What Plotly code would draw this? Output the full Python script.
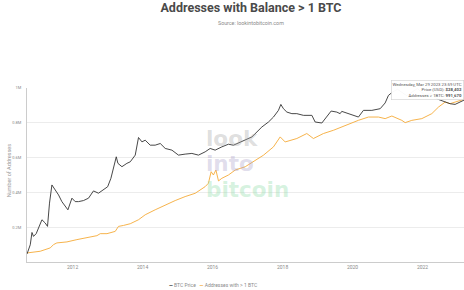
import plotly.graph_objects as go

# ---- data ----
price_dates = [
    "2010-09-12", "2010-10-16", "2010-11-03", "2010-11-19", "2010-12-17",
    "2011-01-10", "2011-02-15", "2011-03-21", "2011-04-14", "2011-05-05",
    "2011-05-30", "2011-07-04", "2011-08-07", "2011-09-11", "2011-10-16",
    "2011-11-13", "2011-12-25", "2012-01-28", "2012-03-03", "2012-04-24",
    "2012-06-15", "2012-08-06", "2012-09-27", "2012-11-18", "2013-01-01",
    "2013-02-04", "2013-03-03", "2013-04-01", "2013-04-18", "2013-05-30",
    "2013-07-21", "2013-08-25", "2013-10-16", "2013-11-19", "2013-12-25",
    "2014-01-28", "2014-03-21", "2014-05-12", "2014-07-04", "2014-08-25",
    "2014-11-03", "2015-01-10", "2015-03-21", "2015-05-30", "2015-08-07",
    "2015-10-16", "2015-12-07", "2016-01-28", "2016-04-07", "2016-06-15",
    "2016-08-06", "2016-11-02", "2017-02-15", "2017-05-30", "2017-08-07",
    "2017-09-28", "2017-11-19", "2017-12-14", "2018-01-10", "2018-02-15",
    "2018-04-08", "2018-05-30", "2018-08-07", "2018-11-03", "2018-12-07",
    "2019-02-15", "2019-04-08", "2019-05-23", "2019-07-21", "2019-08-25",
    "2019-09-11", "2019-12-07", "2020-03-03", "2020-04-24", "2020-07-21",
    "2020-10-16", "2020-12-07", "2021-01-10", "2021-02-20", "2021-04-14",
    "2021-07-20", "2021-11-09", "2022-01-24", "2022-04-01", "2022-05-15",
    "2022-06-16", "2022-08-25", "2022-10-16", "2022-12-07", "2023-01-28",
    "2023-03-10", "2023-03-29",
]
btc_price = [
    0.12, 0.25, 0.67, 0.49, 0.61,
    0.96, 1.85, 1.43, 1.09, 7.0,
    30, 20, 13.5, 7.9, 5.3,
    4.1, 10.4, 7.9, 7.9, 8.6,
    10.4, 18.6, 15.5, 20, 26,
    51, 129, 285, 169, 129,
    169, 191, 326, 1333, 940,
    1075, 723, 723, 826, 556,
    485, 326, 353, 373, 326,
    424, 556, 485, 631, 780,
    720, 990, 1397, 3097, 4613,
    6858, 11700, 18800, 13370, 10200,
    8990, 8990, 7850, 7850, 4613,
    4256, 6858, 11060, 10200, 8990,
    10800, 8500, 6858, 11700, 11700,
    13370, 21200, 38550, 50000, 63000,
    38000, 67000, 40000, 45000, 32000,
    28050, 22600, 19900, 18840, 22600,
    25900, 28402,
]

addr_dates = [
    "2010-09-12", "2011-01-28", "2011-05-13", "2011-06-16", "2011-07-21",
    "2011-11-03", "2012-02-15", "2012-05-30", "2012-09-11", "2012-10-16",
    "2012-12-25", "2013-03-21", "2013-04-24", "2013-06-16", "2013-08-25",
    "2013-11-19", "2014-01-28", "2014-05-12", "2014-08-25", "2014-12-07",
    "2015-03-21", "2015-07-04", "2015-10-16", "2015-11-19", "2015-12-17",
    "2016-01-10", "2016-02-05", "2016-03-03", "2016-04-07", "2016-06-15",
    "2016-08-25", "2016-12-07", "2017-06-16", "2017-09-28", "2017-12-07",
    "2018-01-28", "2018-05-30", "2018-09-11", "2018-11-19", "2019-03-03",
    "2019-06-16", "2019-09-11", "2019-11-19", "2020-03-03", "2020-06-16",
    "2020-09-28", "2020-12-07", "2021-02-15", "2021-05-30", "2021-07-04",
    "2021-09-11", "2021-12-25", "2022-04-08", "2022-06-16", "2022-08-25",
    "2022-10-16", "2022-12-07", "2023-01-28", "2023-03-10", "2023-03-29",
]
addresses = [
    52000, 61700, 81100, 100000, 109700,
    115400, 128600, 138300, 151400, 162900,
    162900, 176000, 204600, 210300, 220000,
    242900, 271400, 300000, 328600, 353100,
    376000, 395000, 433100, 452600, 519000,
    500000, 528600, 466000, 481000, 500000,
    528600, 547400, 614000, 661700, 718900,
    690000, 709700, 738300, 709700, 738300,
    757000, 776000, 795400, 814300, 833100,
    833100, 824000, 839000, 814000, 801000,
    814000, 824000, 852600, 890000, 919000,
    910000, 919000, 928600, 935000, 991670,
]

y_tickvals = [200000, 400000, 600000, 800000, 1000000]
y_ticktext = ["0.2M", "0.4M", "0.6M", "0.8M", "1M"]
x_tickvals = ["2012-01-01", "2014-01-01", "2016-01-01", "2018-01-01", "2020-01-01", "2022-01-01"]
x_ticktext = ["2012", "2014", "2016", "2018", "2020", "2022"]

BLACK = "#333333"
ORANGE = "#f5aa38"

fig = go.Figure()
fig.add_trace(go.Scatter(x=addr_dates, y=addresses, name="Addresses with > 1 BTC",
                         mode="lines", line=dict(color=ORANGE, width=0.9), yaxis="y"))
fig.add_trace(go.Scatter(x=price_dates, y=btc_price, name="BTC Price",
                         mode="lines", line=dict(color=BLACK, width=0.9), yaxis="y2"))

FONT = "Roboto, Arial, sans-serif"
PL, PW, PB, PH = 26.7, 437.3, 262.5, 175.0

ann = []
watermark = [
    ("look", 205, 138.6, "rgba(165,165,165,0.36)"),
    ("into", 205, 163.6, "rgba(170,160,200,0.36)"),
    ("bitcoin", 205, 189.1, "rgba(140,220,165,0.36)"),
]
for text, px, py, col in watermark:
    ann.append(dict(text="<b>%s</b>" % text, xref="paper", yref="paper",
                    x=(px - PL) / PW, y=(PB - py) / PH, borderpad=0,
                    xanchor="left", yanchor="middle", showarrow=False,
                    font=dict(family="DejaVu Sans", size=21.5, color=col)))

# subtitle
ann.append(dict(text="Source: lookintobitcoin.com", xref="paper", yref="paper",
                x=(251 - PL) / PW, y=(PB - 22) / PH, xanchor="center", yanchor="middle",
                showarrow=False, font=dict(family=FONT, size=5.3, color="#8a8a8a")))
# y axis title
ann.append(dict(text="Number of Addresses", xref="paper", yref="paper",
                x=(9 - PL) / PW, y=(PB - 170) / PH, xanchor="center", yanchor="middle",
                textangle=-90, showarrow=False, font=dict(family=FONT, size=5.5, color="#9a9a9a")))
# legend (drawn as text)
ann.append(dict(text="<span style='color:%s'><b>—</b></span> BTC Price   "
                     "<span style='color:%s'><b>—</b></span> Addresses with &gt; 1 BTC" % (BLACK, ORANGE),
                xref="paper", yref="paper",
                x=(213 - PL) / PW, y=(PB - 285.5) / PH, xanchor="center", yanchor="middle",
                showarrow=False, font=dict(family=FONT, size=5, color="#8a8a8a")))
# hover tooltip
ann.append(dict(text="Wednesday, Mar 29 2023 23:59 UTC<br>Price (USD): <b>$28,402</b><br>"
                     "Addresses &gt; 1BTC: <b>991,670</b>",
                xref="paper", yref="paper", x=1.0, y=(PB - 79) / PH,
                xanchor="right", yanchor="top", align="right", showarrow=False,
                bgcolor="rgba(255,255,255,0.97)", bordercolor="#cfcfcf", borderwidth=0.6, borderpad=1,
                font=dict(family=FONT, size=4.3, color="#555")))

fig.update_layout(
    width=464, height=290,
    margin=dict(l=PL, r=0, t=87.5, b=27.5, autoexpand=False),
    paper_bgcolor="white", plot_bgcolor="white",
    showlegend=False,
    title=dict(text="<b>Addresses with Balance &gt; 1 BTC</b>", x=251 / 464, xanchor="center",
               y=1 - 7.5 / 290, yanchor="middle", xref="container", yref="container",
               font=dict(family=FONT, size=12.5, color="#4a4a4a")),
    xaxis=dict(type="date", range=["2010-09-12", "2023-03-10"],
               tickvals=x_tickvals, ticktext=x_ticktext, showgrid=False,
               showline=True, linecolor="#cccccc", linewidth=1, ticks="",
               tickfont=dict(family=FONT, size=5, color="#8a8a8a"), zeroline=False),
    yaxis=dict(range=[0, 1000000], tickvals=y_tickvals, ticktext=y_ticktext,
               showgrid=True, gridcolor="#ececec", gridwidth=1,
               showline=True, linecolor="#cccccc", linewidth=1, zeroline=False,
               ticklabelstandoff=4,
               tickfont=dict(family=FONT, size=4, color="#8a8a8a")),
    yaxis2=dict(type="log", range=[-1.2, 4.845], overlaying="y", side="right",
                visible=False, showgrid=False),
    annotations=ann,
)

fig.write_html("out.html")
